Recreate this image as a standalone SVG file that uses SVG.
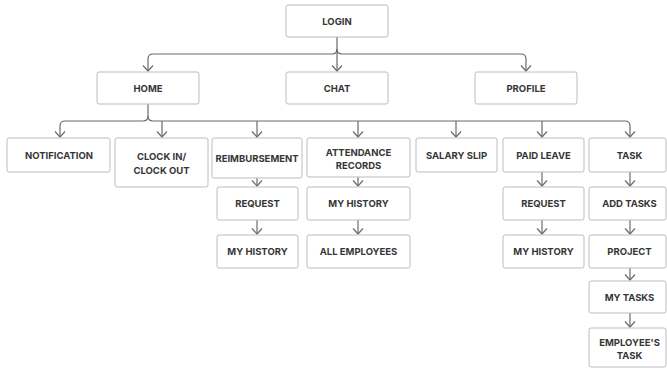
<svg xmlns="http://www.w3.org/2000/svg" width="667" height="370" viewBox="0 0 667 370">
<defs>
<marker id="arr" viewBox="0 0 12 12" refX="10" refY="6" markerWidth="12" markerHeight="12" markerUnits="userSpaceOnUse" orient="auto">
<path d="M4.5,1 L10,6 L4.5,11" fill="none" stroke="#6b6b6b" stroke-width="1.2"/>
</marker>
<style>
.b{fill:#fff;stroke:#bdbdbd;stroke-width:1}
.t{font-family:Inter,"Liberation Sans",sans-serif;font-weight:700;font-size:9.5px;fill:#363636;text-anchor:middle}
.c{fill:none;stroke:#6b6b6b;stroke-width:1.2}
.a{marker-end:url(#arr)}
</style>
</defs>
<rect width="667" height="370" fill="#fff"/>
<g id="connectors">
<path class="c a" d="M337,37 V71"/>
<path class="c a" d="M337,49 Q337,54 342,54 H521 Q526,54 526,59 V71"/>
<path class="c a" d="M337,49 Q337,54 332,54 H153 Q148,54 148,59 V71"/>
<path class="c a" d="M148,104 V116 Q148,121 153,121 H625 Q630,121 630,126 V137"/>
<path class="c a" d="M148,116 Q148,121 143,121 H65 Q60,121 60,126 V137"/>
<path class="c a" d="M162,121 V137"/>
<path class="c a" d="M257,121 V137"/>
<path class="c a" d="M358,121 V137"/>
<path class="c a" d="M456,121 V137"/>
<path class="c a" d="M542,121 V137"/>
<path class="c a" d="M257,178 V186"/>
<path class="c a" d="M257,220 V234"/>
<path class="c a" d="M358,177 V186"/>
<path class="c a" d="M358,220 V234"/>
<path class="c a" d="M542,172 V186"/>
<path class="c a" d="M542,220 V234"/>
<path class="c a" d="M630,172 V186"/>
<path class="c a" d="M630,220 V234"/>
<path class="c a" d="M630,268 V280"/>
<path class="c a" d="M630,313 V327"/>
</g>
<g id="login"><rect class="b" x="286" y="5" width="102" height="32" rx="2"/><text class="t" x="337" y="24.5">LOGIN</text></g>
<g id="home"><rect class="b" x="97" y="72" width="102" height="32" rx="2"/><text class="t" x="148" y="91.5">HOME</text></g>
<g id="chat"><rect class="b" x="286" y="72" width="102" height="32" rx="2"/><text class="t" x="337" y="91.5">CHAT</text></g>
<g id="profile"><rect class="b" x="475" y="72" width="102" height="32" rx="2"/><text class="t" x="526" y="91.5">PROFILE</text></g>
<g id="notification"><rect class="b" x="7" y="138" width="103" height="34" rx="2"/><text class="t" x="59" y="158.5">NOTIFICATION</text></g>
<g id="clock"><rect class="b" x="115" y="138" width="93" height="49" rx="2"/><text class="t" x="161.5" y="159.5">CLOCK IN/</text><text class="t" x="161.5" y="173.5">CLOCK OUT</text></g>
<g id="reimbursement"><rect class="b" x="212" y="138" width="90" height="40" rx="2"/><text class="t" x="257" y="161.5">REIMBURSEMENT</text></g>
<g id="attendance"><rect class="b" x="307" y="138" width="103" height="39" rx="2"/><text class="t" x="358.5" y="155.5">ATTENDANCE</text><text class="t" x="358.5" y="168.5">RECORDS</text></g>
<g id="salary"><rect class="b" x="416" y="138" width="81" height="34" rx="2"/><text class="t" x="456.5" y="158.5">SALARY SLIP</text></g>
<g id="paidleave"><rect class="b" x="503" y="138" width="81" height="34" rx="2"/><text class="t" x="543.5" y="158.5">PAID LEAVE</text></g>
<g id="task"><rect class="b" x="589" y="138" width="77" height="34" rx="2"/><text class="t" x="629.5" y="158.5">TASK</text></g>
<g id="reimb-request"><rect class="b" x="217" y="187" width="81" height="33" rx="2"/><text class="t" x="257.5" y="207">REQUEST</text></g>
<g id="reimb-history"><rect class="b" x="217" y="235" width="81" height="33" rx="2"/><text class="t" x="257.5" y="255">MY HISTORY</text></g>
<g id="att-history"><rect class="b" x="307" y="187" width="103" height="33" rx="2"/><text class="t" x="358.5" y="207">MY HISTORY</text></g>
<g id="att-all"><rect class="b" x="307" y="235" width="103" height="33" rx="2"/><text class="t" x="358.5" y="255">ALL EMPLOYEES</text></g>
<g id="leave-request"><rect class="b" x="503" y="187" width="81" height="33" rx="2"/><text class="t" x="543.5" y="207">REQUEST</text></g>
<g id="leave-history"><rect class="b" x="503" y="235" width="81" height="33" rx="2"/><text class="t" x="543.5" y="255">MY HISTORY</text></g>
<g id="addtasks"><rect class="b" x="589" y="187" width="77" height="33" rx="2"/><text class="t" x="629.5" y="207">ADD TASKS</text></g>
<g id="project"><rect class="b" x="589" y="235" width="77" height="33" rx="2"/><text class="t" x="629.5" y="255">PROJECT</text></g>
<g id="mytasks"><rect class="b" x="589" y="281" width="77" height="32" rx="2"/><text class="t" x="629.5" y="300.5">MY TASKS</text></g>
<g id="emptask"><rect class="b" x="589" y="328" width="77" height="39" rx="2"/><text class="t" x="629.5" y="345.5">EMPLOYEE'S</text><text class="t" x="629.5" y="358.5">TASK</text></g>
</svg>
